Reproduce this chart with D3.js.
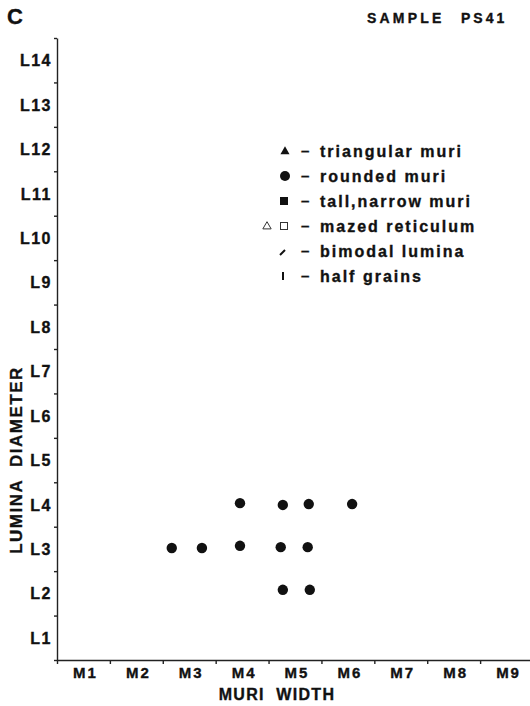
<!DOCTYPE html>
<html>
<head>
<meta charset="utf-8">
<script src="https://cdn.jsdelivr.net/npm/d3@7"></script>
<style>
  body { margin: 0; background: #fff; }
  text { font-family: "Liberation Sans", Arial, sans-serif; font-weight: bold; fill: #111; stroke: #111; stroke-width: 0.35px; white-space: pre; }
</style>
</head>
<body>
<div id="chart"></div>
<script>
const width = 530
const height = 706

// categories
const muriCats = ["M1", "M2", "M3", "M4", "M5", "M6", "M7", "M8", "M9"]
const luminaCats = ["L1", "L2", "L3", "L4", "L5", "L6", "L7", "L8", "L9", "L10", "L11", "L12", "L13", "L14"]

// rounded muri points (M / L position)
const roundedMuri = [3.96, 4.77, 5.26, 6.08, 2.67, 3.24, 3.96, 4.73, 5.24, 4.77, 5.28]
const roundedLumina = [4.03, 3.99, 4.01, 4.01, 3.02, 3.02, 3.07, 3.04, 3.04, 2.08, 2.08]

const legendLabels = ["triangular muri", "rounded muri", "tall,narrow muri", "mazed reticulum", "bimodal lumina", "half grains"]

const svg = d3.select("#chart")
  .append("svg")
    .attr("width", width)
    .attr("height", height)

const x = d3.scaleLinear().domain([0.5, 9.5]).range([57, 533])
const y = d3.scaleLinear().domain([0.5, 14.5]).range([660, 38])

const xBounds = d3.range(0, 10).map(i => i + 0.5)
const yBounds = d3.range(0, 15).map(i => i + 0.5)

// axes
svg.append("g")
  .attr("transform", "translate(0,660)")
  .call(d3.axisBottom(x).tickValues(xBounds).tickFormat("").tickSize(4).tickSizeOuter(0))
  .call(g => g.select(".domain").attr("stroke", "#222").attr("stroke-width", 1.4))
  .call(g => g.selectAll(".tick line").attr("stroke", "#222").attr("stroke-width", 1.4))

svg.append("g")
  .attr("transform", "translate(57,0)")
  .call(d3.axisLeft(y).tickValues(yBounds).tickFormat("").tickSize(3).tickSizeOuter(0))
  .call(g => g.select(".domain").attr("stroke", "#222").attr("stroke-width", 1.4))
  .call(g => g.selectAll(".tick line").attr("stroke", "#222").attr("stroke-width", 1.4))

// category labels
svg.append("g")
  .selectAll("text")
  .data(muriCats)
  .join("text")
    .attr("x", (d, i) => x(i + 1) + 2)
    .attr("y", 678)
    .attr("text-anchor", "middle")
    .style("font-size", "15px")
    .style("letter-spacing", "2px")
    .text(d => d)

svg.append("g")
  .selectAll("text")
  .data(luminaCats)
  .join("text")
    .attr("x", 52)
    .attr("y", (d, i) => y(i + 1) + 6)
    .attr("text-anchor", "end")
    .style("font-size", "16px")
    .style("letter-spacing", "1.5px")
    .text(d => d)

// titles
svg.append("text")
  .attr("x", 277)
  .attr("y", 700)
  .attr("text-anchor", "middle")
  .style("font-size", "16px")
  .style("letter-spacing", "1.3px")
  .text("MURI  WIDTH")

svg.append("text")
  .attr("transform", "translate(22,460) rotate(-90)")
  .attr("text-anchor", "middle")
  .style("font-size", "17px")
  .style("letter-spacing", "1.5px")
  .text("LUMINA  DIAMETER")

svg.append("text")
  .attr("x", 7)
  .attr("y", 24)
  .style("font-size", "22px")
  .text("C")

svg.append("text")
  .attr("x", 367)
  .attr("y", 23)
  .style("font-size", "14px")
  .style("letter-spacing", "3.2px")
  .text("SAMPLE")

svg.append("text")
  .attr("x", 461)
  .attr("y", 23)
  .style("font-size", "14px")
  .style("letter-spacing", "3px")
  .text("PS41")

// points
svg.append("g")
  .selectAll("circle")
  .data(roundedMuri)
  .join("circle")
    .attr("cx", d => x(d))
    .attr("cy", (d, i) => y(roundedLumina[i]))
    .attr("r", 5.2)
    .style("fill", "#111")

// legend
const leg = svg.append("g")
const rowY = i => 151 + i * 25

leg.selectAll("text.lab")
  .data(legendLabels)
  .join("text")
    .attr("class", "lab")
    .attr("x", 320)
    .attr("y", (d, i) => rowY(i) + 5.5)
    .style("font-size", "16px")
    .style("letter-spacing", "2px")
    .text(d => d)

leg.selectAll("text.dash")
  .data(legendLabels)
  .join("text")
    .attr("class", "dash")
    .attr("x", 301)
    .attr("y", (d, i) => rowY(i) + 5)
    .style("font-size", "15px")
    .text("–")

// symbols
leg.append("path")
  .attr("d", d3.symbol(d3.symbolTriangle, 36)())
  .attr("transform", `translate(285,${rowY(0) + 0.5})`)
  .style("fill", "#111")

leg.append("circle")
  .attr("cx", 285).attr("cy", rowY(1)).attr("r", 5)
  .style("fill", "#111")

leg.append("rect")
  .attr("x", 280).attr("y", rowY(2) - 4).attr("width", 8).attr("height", 8)
  .style("fill", "#111")

leg.append("path")
  .attr("d", d3.symbol(d3.symbolTriangle, 30)())
  .attr("transform", `translate(267,${rowY(3) + 0.5})`)
  .style("fill", "none").style("stroke", "#333").style("stroke-width", 1)

leg.append("rect")
  .attr("x", 280.5).attr("y", rowY(3) - 3.5).attr("width", 7).attr("height", 7)
  .style("fill", "none").style("stroke", "#333").style("stroke-width", 1)

leg.append("line")
  .attr("x1", 280).attr("y1", rowY(4) + 4).attr("x2", 285).attr("y2", rowY(4) - 1)
  .style("stroke", "#111").style("stroke-width", 2)

leg.append("line")
  .attr("x1", 283).attr("y1", rowY(5) - 4).attr("x2", 283).attr("y2", rowY(5) + 4)
  .style("stroke", "#111").style("stroke-width", 2)
</script>
</body>
</html>
